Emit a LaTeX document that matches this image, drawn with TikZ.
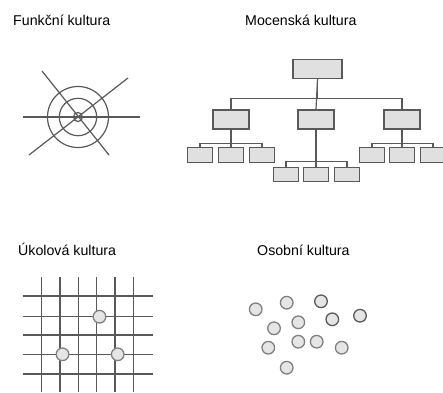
\documentclass[tikz,border=0pt]{standalone}
\usepackage{fontspec}
\setmainfont{Liberation Sans}
\usetikzlibrary{positioning}
\tikzset{
  title/.style={anchor=base west, inner sep=0pt, font=\fontsize{14.2}{17}\selectfont},
  line/.style={draw=black!65, line width=1.2pt},
  box/.style={draw=black!65, line width=1.4pt, fill=black!12, inner sep=0pt},
  bigbox/.style={box, minimum width=49pt, minimum height=19pt},
  midbox/.style={box, minimum width=36pt, minimum height=19pt},
  smallbox/.style={box, minimum width=25pt, minimum height=14.5pt},
  dot/.style={draw=black!50, line width=1.3pt, fill=black!10},
}
\begin{document}
\begin{tikzpicture}[x=1pt, y=-1pt]
  \useasboundingbox (0,0) rectangle (443,392);
  \clip (0,0) rectangle (443,392);
  % titles
  \node[title] (funkce) at (13,25) {Funkční kultura};
  \node[title] (moc) at (245,25) {Mocenská kultura};
  \node[title] (ukol) at (18,255) {Úkolová kultura};
  \node[title] (osoba) at (257,255) {Osobní kultura};

  % funkcni kultura
  \coordinate (c) at (78,117);
  \draw[line] (23,117) -- (140,117);
  \draw[line] (42,71) -- (109,155);
  \draw[line] (29,155) -- (128,78);
  \draw[line] (c) circle (30.5);
  \draw[line] (c) circle (18.7);
  \draw[line] (c) circle (4.5);

  % mocenska kultura
  \node[bigbox] (top) at (317.5,69) {};
  \node[midbox] (ml) at (231,119.5) {};
  \node[midbox] (mc) at (316,119.5) {};
  \node[midbox] (mr) at (402,119.5) {};
  \node[smallbox] (l1) at (200,155) {};
  \node[smallbox] (l2) at (231,155) {};
  \node[smallbox] (l3) at (262,155) {};
  \node[smallbox] (c1) at (286,174.5) {};
  \node[smallbox] (c2) at (316,174.5) {};
  \node[smallbox] (c3) at (347,174.5) {};
  \node[smallbox] (r1) at (372,155) {};
  \node[smallbox] (r2) at (402,155) {};
  \node[smallbox] (r3) at (433,155) {};
  \draw[line] (top.south) -- ++(0,19) -| (ml.north);
  \draw[line] (top.south) -- ++(0,19) -| (mr.north);
  \draw[line] (top.south) -- (mc.north);
  \draw[line] (ml.south) -- ++(0,13.5) -| (l1.north);
  \draw[line] (ml.south) -- ++(0,13.5) -| (l3.north);
  \draw[line] (ml.south) -- (l2.north);
  \draw[line] (mc.south) -- ++(0,32) -| (c1.north);
  \draw[line] (mc.south) -- ++(0,32) -| (c3.north);
  \draw[line] (mc.south) -- (c2.north);
  \draw[line] (mr.south) -- ++(0,13.5) -| (r1.north);
  \draw[line] (mr.south) -- ++(0,13.5) -| (r3.north);
  \draw[line] (mr.south) -- (r2.north);

  % ukolova kultura
  \foreach \x in {41.7,60,78.3,96.7,115,133.3}
    \draw[line] (\x,277) -- (\x,392);
  \foreach \y in {296,316.7,335,354.3,374}
    \draw[line] (22.7,\y) -- (152.7,\y);
  \foreach \p in {(99.5,316.7),(62.5,354.3),(117.7,354.3)}
    \draw[dot] \p circle (6.3);

  % osobni kultura
  \foreach \p in {(255.7,309.3),(286.7,302.7),(274,328.3),(298.3,322.3),
                  (268.3,347.7),(298.3,341.7),(316.7,341.7),(341.7,347.7),(286.7,367.7)}
    \draw[dot] \p circle (6.3);
  \foreach \p in {(321,301.3),(332.3,319.3),(360,315.7)}
    \draw[dot, draw=black!65] \p circle (6.3);
\end{tikzpicture}
\end{document}
